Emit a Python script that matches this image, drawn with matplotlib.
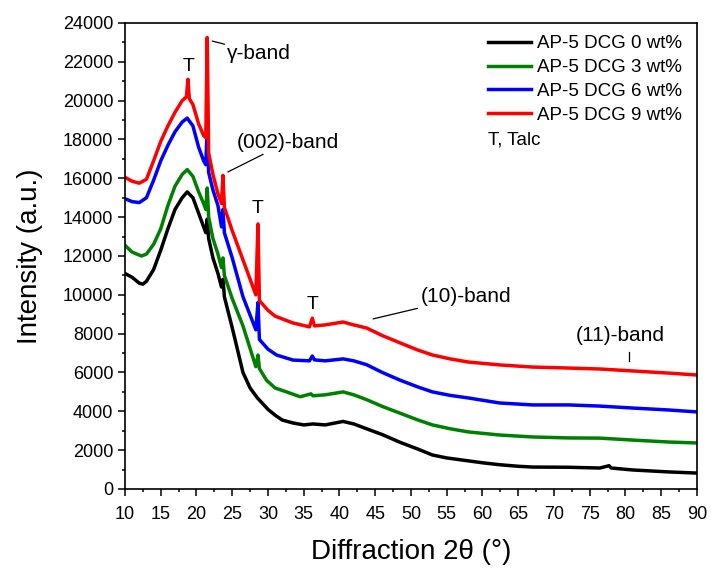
import numpy as np
import matplotlib.pyplot as plt
from matplotlib.ticker import MultipleLocator

plt.rcParams['font.family'] = ['Liberation Sans', 'DejaVu Sans']

# 2-theta positions and intensities for each sample
x_0 = [10, 11, 12, 12.5, 13, 14, 15, 16, 17, 18, 18.7, 19.5, 20.3, 21, 21.3, 21.5, 21.7,
       22.3, 23, 23.5, 23.7, 23.9, 25, 26.5, 27.5, 28.5, 30, 31, 32, 33.5, 35, 36.3, 38,
       40.5, 42, 43.8, 46, 48.5, 51, 53, 55, 58, 60, 62.4, 65, 67, 72, 76.4, 77.7, 78,
       81, 84, 86, 90]
y_0 = [11100, 10900, 10600, 10550, 10700, 11300, 12300, 13400, 14400, 15000, 15300, 15000,
       14200, 13500, 13200, 13900, 12900, 11900, 11100, 10400, 10800, 9900, 8300, 6000,
       5200, 4700, 4100, 3800, 3550, 3400, 3300, 3350, 3300, 3480, 3350, 3100, 2800, 2400,
       2050, 1750, 1600, 1450, 1350, 1250, 1170, 1130, 1120, 1080, 1200, 1080, 980, 920,
       880, 820]

x_3 = [10, 11, 12.3, 13, 14, 15, 16, 17, 18, 18.7, 19.5, 20.3, 21, 21.3, 21.5, 21.7, 22.3,
       23, 23.5, 23.7, 23.9, 25, 26.5, 28.3, 28.6, 28.8, 29.8, 31, 32.6, 34.5, 36, 36.3,
       38, 40.5, 42, 43.8, 46, 48.5, 51, 53, 55.5, 58, 62.4, 67, 72, 76.4, 81, 86, 90]
y_3 = [12550, 12200, 12000, 12100, 12600, 13400, 14600, 15600, 16200, 16450, 16100, 15300,
       14700, 14400, 15500, 14000, 12900, 12100, 11400, 11900, 11000, 9800, 8400, 6300,
       6900, 6200, 5600, 5200, 5000, 4750, 4900, 4800, 4850, 5000, 4850, 4600, 4250, 3900,
       3550, 3300, 3100, 2940, 2780, 2680, 2630, 2620, 2520, 2420, 2370]

x_6 = [10, 11, 12, 13, 14, 15, 16, 17, 18, 18.7, 19.5, 20.3, 21, 21.3, 21.5, 21.7, 22.3,
       23, 23.5, 23.7, 23.9, 25, 26.5, 28.3, 28.6, 28.8, 30, 31.2, 33.5, 35.8, 36.2, 36.5,
       38, 40.5, 42, 43.8, 46, 48.5, 51, 53, 55.5, 58, 62.4, 67, 72, 76.4, 81, 86, 90]
y_6 = [14950, 14800, 14750, 15000, 15900, 16900, 17700, 18400, 18900, 19100, 18700, 17600,
       16900, 16700, 18600, 16300, 15400, 14600, 13500, 14400, 13200, 11900, 9900, 8200,
       9600, 7700, 7200, 6900, 6640, 6600, 6850, 6650, 6600, 6700, 6600, 6400, 6000, 5600,
       5250, 5000, 4820, 4690, 4430, 4330, 4330, 4270, 4170, 4070, 3970]

x_9 = [10, 11, 12, 13, 14, 15, 16, 17, 18, 18.6, 18.8, 19.0, 19.5, 20.3, 21, 21.3, 21.5,
       21.7, 22.3, 23, 23.5, 23.7, 23.9, 25, 26.5, 28.3, 28.6, 28.8, 30, 31, 33.5, 35.8,
       36.2, 36.5, 38, 40.5, 42, 43.8, 46, 48.5, 51, 53, 55.5, 58, 62.4, 67, 72, 76.4, 81,
       86, 90]
y_9 = [16050, 15850, 15750, 15950, 16900, 17900, 18700, 19400, 20000, 20200, 21100, 20100,
       19800, 18800, 18200, 18100, 23250, 17300, 16200, 15200, 14700, 16150, 14500, 13300,
       11800, 10000, 13650, 9700, 9200, 8900, 8550, 8350, 8800, 8400, 8450, 8600, 8450,
       8290, 7900, 7520, 7150, 6900, 6700, 6540, 6390, 6280, 6230, 6180, 6080, 5970, 5870]

labels = ['AP-5 DCG 0 wt%', 'AP-5 DCG 3 wt%', 'AP-5 DCG 6 wt%', 'AP-5 DCG 9 wt%']
colors = ['black', 'green', 'blue', 'red']

fig = plt.figure(figsize=(7.11, 5.69), dpi=100)
ax = fig.add_axes([0.1758, 0.1406, 0.8045, 0.819])

for xs, ys, c, lab in zip([x_0, x_3, x_6, x_9], [y_0, y_3, y_6, y_9], colors, labels):
    ax.plot(xs, ys, color=c, lw=2.5, label=lab)

ax.set_xlim(10, 90)
ax.set_ylim(0, 24000)
ax.xaxis.set_major_locator(MultipleLocator(5))
ax.xaxis.set_minor_locator(MultipleLocator(2.5))
ax.yaxis.set_major_locator(MultipleLocator(2000))
ax.yaxis.set_minor_locator(MultipleLocator(1000))
ax.tick_params(which='major', direction='out', length=5, width=1.1, labelsize=13)
ax.tick_params(axis='x', which='major', pad=7)
ax.tick_params(which='minor', direction='out', length=2.5, width=1.1)
for s in ax.spines.values():
    s.set_linewidth(1.2)

ax.set_xlabel('Diffraction 2θ (°)', fontsize=20, labelpad=12)
ax.set_ylabel('Intensity (a.u.)', fontsize=20, labelpad=14)

leg = ax.legend(loc='upper left', bbox_to_anchor=(0.6346, 0.974), frameon=False,
                fontsize=13.5, handlelength=2.3, handletextpad=0.3, labelspacing=0.36,
                borderpad=0, borderaxespad=0)
ax.text(0.6346, 0.748, 'T, Talc', transform=ax.transAxes, fontsize=13.5, va='center')

# peak assignments
ax.text(18.9, 21750, 'T', fontsize=14, ha='center', va='center')
ax.text(28.6, 14470, 'T', fontsize=14, ha='center', va='center')
ax.text(36.3, 9480, 'T', fontsize=14, ha='center', va='center')
ax.annotate('γ-band', xy=(22.2, 23070), xytext=(24.3, 22450), fontsize=15, va='center',
            arrowprops=dict(arrowstyle='-', color='black', lw=0.9, shrinkA=0, shrinkB=0))
ax.annotate('(002)-band', xy=(24.4, 16330), xytext=(25.6, 17870), fontsize=15, va='center',
            arrowprops=dict(arrowstyle='-', color='black', lw=0.9, shrinkA=0, shrinkB=0))
ax.annotate('(10)-band', xy=(44.7, 8760), xytext=(51.3, 9890), fontsize=15, va='center',
            arrowprops=dict(arrowstyle='-', color='black', lw=0.9, shrinkA=0, shrinkB=0))
ax.text(73.1, 7930, '(11)-band', fontsize=15, va='center')
ax.plot([80.5, 80.5], [6590, 7050], color='black', lw=0.9)

fig.savefig('out.png', dpi=100)
